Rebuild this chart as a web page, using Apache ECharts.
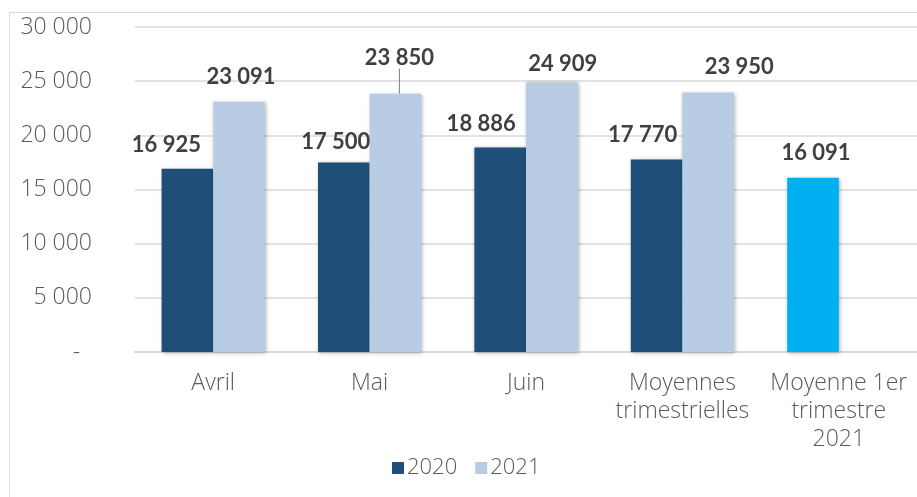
<!DOCTYPE html>
<html>
<head>
<meta charset="utf-8">
<script src="https://cdn.jsdelivr.net/npm/echarts@6/dist/echarts.min.js"></script>
<style>
  html, body { margin: 0; padding: 0; background: #fff; }
  #frame { position: absolute; left: 9px; top: 12px; width: 920px; height: 500px; border: 1px solid #d9d9d9; }
  #chart { position: absolute; left: 0; top: 0; width: 917px; height: 497px; }
</style>
</head>
<body>
<div id="frame"></div>
<div id="chart"></div>
<script>
// categories and values
var categories = ['Avril', 'Mai', 'Juin', 'Moyennes\ntrimestrielles', 'Moyenne 1er\ntrimestre\n2021']
var values2020 = [16925, 17500, 18886, 17770, 16091]
var values2021 = [23091, 23850, 24909, 23950, null]
var yTicks = [0, 5000, 10000, 15000, 20000, 25000, 30000]

// label nudges (Excel moved some labels by hand)
var nudge2020 = [[-21, -9], [-8, -6], [-19, -8], [-14, -10], [3, -10]]
var nudge2021 = [[2, -10], [4, -21], [11, -3], [31, -11], [0, 0]]

var axisFont = 'Open Sans'

var fmt = function (v) {
  if (v === 0) return '-  '
  return String(v).replace(/\B(?=(\d{3})+(?!\d))/g, ' ')
}

var labelStyle = {
  show: true,
  position: 'top',
  distance: 4,
  color: '#404040',
  fontFamily: 'Lato',
  fontWeight: 'bold',
  fontSize: 22,
  formatter: function (p) { return fmt(p.value) }
}
var shadow = {
  shadowBlur: 4,
  shadowColor: 'rgba(0,0,0,0.3)',
  shadowOffsetX: 1,
  shadowOffsetY: 1
}

var chart = echarts.init(document.getElementById('chart'))
chart.setOption({
  animation: false,
  backgroundColor: 'transparent',
  grid: { left: 135, right: -3, top: 27, bottom: 145 },
  legend: {
    left: 387,
    top: 452,
    itemWidth: 12,
    itemHeight: 12,
    itemGap: 18,
    icon: 'rect',
    textStyle: { color: '#595959', fontSize: 22, fontFamily: axisFont, fontWeight: 300, padding: [0, 0, 0, -2] },
    data: ['2020', '2021']
  },
  xAxis: {
    type: 'category',
    data: categories,
    axisLine: { lineStyle: { color: '#d9d9d9', width: 2 } },
    axisTick: { show: false },
    axisLabel: {
      interval: 0,
      margin: 17,
      color: '#595959',
      fontSize: 23,
      fontFamily: axisFont,
      fontWeight: 300,
      lineHeight: 28
    }
  },
  yAxis: {
    type: 'value',
    min: yTicks[0],
    max: yTicks[yTicks.length - 1],
    interval: 5000,
    axisLine: { show: false },
    axisTick: { show: false },
    splitLine: { lineStyle: { color: '#d9d9d9', width: 1.5 } },
    axisLabel: {
      margin: 43,
      color: '#595959',
      fontSize: 23,
      fontFamily: axisFont,
      fontWeight: 300,
      formatter: fmt
    }
  },
  series: [
    {
      name: '2020',
      type: 'bar',
      barGap: '0%',
      barCategoryGap: '34%',
      itemStyle: Object.assign({ color: '#1f4e79' }, shadow),
      label: labelStyle,
      labelLayout: function (p) { return { dx: nudge2020[p.dataIndex][0], dy: nudge2020[p.dataIndex][1] } },
      data: values2020.map(function (v, i) {
        if (i === values2020.length - 1) return { value: v, itemStyle: { color: '#00b0f0' } }
        return v
      })
    },
    {
      name: '2021',
      type: 'bar',
      itemStyle: Object.assign({ color: '#b8cce4' }, shadow),
      label: labelStyle,
      labelLine: { show: false, lineStyle: { color: '#7f7f7f', width: 1 } },
      labelLayout: function (p) { return { dx: nudge2021[p.dataIndex][0], dy: nudge2021[p.dataIndex][1] } },
      data: values2021.map(function (v, i) {
        if (i === 1) return { value: v, labelLine: { show: true, lineStyle: { color: '#7f7f7f', width: 1 } } }
        return v
      })
    }
  ]
})
</script>
</body>
</html>
